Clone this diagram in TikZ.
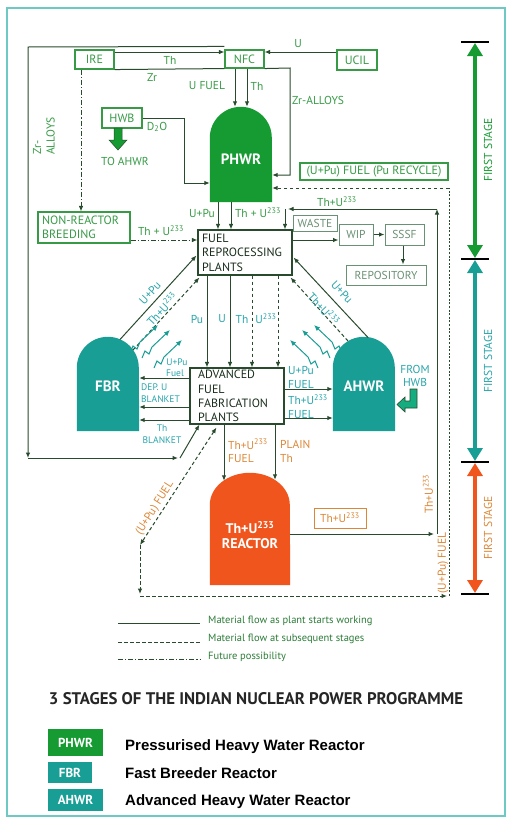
\documentclass[tikz,border=0pt]{standalone}
\usepackage{fontspec}
\usepackage{graphicx}
\setmainfont{PT Sans}
\newfontfamily\arialf{Liberation Sans}
\usetikzlibrary{arrows.meta,calc}
\definecolor{lgreen}{RGB}{55,155,70}
\definecolor{bgreen}{RGB}{22,155,50}
\definecolor{dline}{RGB}{40,75,45}
\definecolor{tealf}{RGB}{25,158,150}
\definecolor{tealt}{RGB}{40,165,170}
\definecolor{orngf}{RGB}{240,85,30}
\definecolor{orngt}{RGB}{220,135,55}
\definecolor{framec}{RGB}{110,200,195}
\definecolor{grayg}{RGB}{105,145,115}
\definecolor{boxtxt}{RGB}{25,45,28}
\pgfdeclarelayer{bg}
\pgfsetlayers{bg,main}
\newcommand{\Uu}{U\textsuperscript{233}}
\tikzset{
  myarr/.tip={Latex[length=5.5pt,width=4.5pt]},
  lab/.style={inner sep=0pt, align=center, font=\fontsize{11.5}{13.5}\selectfont},
  gl/.style={lab, text=lgreen},
  tl/.style={lab, text=tealt},
  ol/.style={lab, text=orngt},
  sm/.style={font=\fontsize{9.5}{11.5}\selectfont},
  gbox/.style={draw=lgreen, line width=1.1pt, text=lgreen, inner sep=0pt, font=\fontsize{12}{14}\selectfont},
  sbox/.style={draw=grayg, line width=1pt, text=grayg, inner sep=0pt, font=\fontsize{11.5}{13}\selectfont},
  pbox/.style={draw=dline, line width=1.1pt, text=boxtxt, inner xsep=4pt, inner ysep=0pt, align=left, font=\fontsize{12}{14.4}\selectfont},
  reactor/.style={inner sep=0pt},
  rlab/.style={inner sep=0pt, text=white, align=center, font=\fontsize{15}{17}\selectfont\bfseries},
  cline/.style={draw=dline, line width=1pt},
  conn/.style={cline, -myarr},
  dsh/.style={dash pattern=on 3.5pt off 2.5pt},
  ddt/.style={dash pattern=on 5pt off 2pt on 1.2pt off 2pt},
  dtt/.style={dash pattern=on 2pt off 1.6pt},
  stagearr/.style={line width=3.5pt, {Triangle[length=13pt,width=15pt]}-{Triangle[length=13pt,width=15pt]}},
  bar/.style={draw=black, line width=1.3pt},
  legbox/.style={inner sep=0pt, text=white, font=\fontsize{13}{15}\selectfont\bfseries},
  legtxt/.style={anchor=base west, inner sep=0pt, font=\arialf\fontsize{15}{17}\selectfont\bfseries},
}
\newcommand{\zzarrow}[3]{\draw[tealf, line width=1pt, -{Latex[length=6pt,width=5pt]}] (#1,#2) -- ++(#3*3,-7) -- ++(#3*4,3) -- ++(#3*3,-7) -- ++(#3*18,-17);}
\begin{document}
\begin{tikzpicture}[x=1pt,y=-1pt]
\useasboundingbox (0,0) rectangle (512,825);
\begin{pgfonlayer}{bg}
\fill[white] (0,0) rectangle (512,825);
\end{pgfonlayer}
\draw[framec, line width=1.3pt] (7,8) rectangle (505,816);

% boxes
\node[gbox, minimum width=39pt, minimum height=19pt] (ire) at (94.5,59.5) {IRE};
\node[gbox, minimum width=39pt, minimum height=18pt] (nfc) at (244.5,59) {NFC};
\node[gbox, minimum width=40pt, minimum height=20pt] (ucil) at (357,60) {UCIL};
\node[gbox, minimum width=40pt, minimum height=20pt] (hwb) at (122,118) {HWB};
\node[gbox, minimum width=148pt, minimum height=17pt] (rec) at (374,171.5) {(U+Pu) FUEL (Pu RECYCLE)};
\node[gbox, align=left, text width=84pt, inner xsep=4pt, minimum height=31pt] (nrb) at (84,227.5) {NON-REACTOR\\BREEDING};
\node[pbox, text width=86pt, minimum height=45pt] (frp) at (245,252.5) {FUEL\\REPROCESSING\\PLANTS};
\node[pbox, inner xsep=8pt, text width=78pt, minimum height=56pt] (affp) at (237,396) {ADVANCED\\FUEL\\FABRICATION\\PLANTS};
\node[sbox, minimum width=44pt, minimum height=16pt] (waste) at (315,223) {WASTE};
\node[sbox, minimum width=34pt, minimum height=21pt] (wip) at (356,234.5) {WIP};
\node[sbox, minimum width=39pt, minimum height=21pt] (sssf) at (404.5,234.5) {SSSF};
\node[sbox, minimum width=80pt, minimum height=20pt] (repo) at (386,275) {REPOSITORY};
\node[draw=orngt, line width=1pt, text=orngt, inner sep=0pt, minimum width=52pt, minimum height=20pt, font=\fontsize{11.5}{13}\selectfont] (thbox) at (340,518) {Th+\Uu};

% reactors
\node[reactor, minimum width=62pt, minimum height=95pt] (phwr) at (241,154.5) {};
\node[reactor, minimum width=62pt, minimum height=94pt] (fbr) at (108,384) {};
\node[reactor, minimum width=62pt, minimum height=94pt] (ahwr) at (364,384) {};
\node[reactor, minimum width=80pt, minimum height=112pt] (thr) at (250,529) {};
\begin{pgfonlayer}{bg}
\fill[bgreen] (phwr.south west) -- ($(phwr.north west)+(0,31)$) arc[start angle=180,end angle=360,radius=31] -- (phwr.south east) -- cycle;
\fill[tealf] (fbr.south west) -- ($(fbr.north west)+(0,31)$) arc[start angle=180,end angle=360,radius=31] -- (fbr.south east) -- cycle;
\fill[tealf] (ahwr.south west) -- ($(ahwr.north west)+(0,31)$) arc[start angle=180,end angle=360,radius=31] -- (ahwr.south east) -- cycle;
\fill[orngf] (thr.south west) -- ($(thr.north west)+(0,32)$) arc[start angle=180,end angle=360,x radius=40,y radius=32] -- (thr.south east) -- cycle;
\end{pgfonlayer}
\node[rlab] (phwrt) at (241,159) {PHWR};
\node[rlab] (fbrt) at (108,386) {FBR};
\node[rlab] (ahwrt) at (364,386) {AHWR};
\node[rlab, font=\fontsize{14}{15.5}\selectfont\bfseries] (thrt) at (250,535) {Th+\Uu\\REACTOR};

% coordinates
\coordinate (zc) at (28,458);
\coordinate (ze) at (180,458);
\coordinate (r1) at (437,534);
\coordinate (r2) at (437,209);
\coordinate (r3) at (285,209);
\coordinate (f1) at (120,339.5);
\coordinate (f2) at (133,350);
\coordinate (a1) at (368,337.5);
\coordinate (a2) at (348,341);
\coordinate (d1) at (140,545);
\coordinate (d2) at (140,596);
\coordinate (d3) at (449,596);
\coordinate (d4) at (449,188);

% top connectors
\draw[conn] (ire.east |- 0,52) -- (nfc.west |- 0,52);
\draw[cline] (ire.south east) -- (nfc.south west);
\draw[conn] ($(nfc.north west)+(0,-3)$) -- (28,47) -- (zc);
\draw[conn] (zc) -- ($(ze)+(-2,0)$);
\draw[conn] (ze) -- ($(affp.south west)+(10,0)$);
\draw[conn] (ucil.west |- 0,52) -- (nfc.east |- 0,52);
\draw[conn] (nfc.south -| 235,0) -- (phwr.north -| 235,0);
\draw[conn] (nfc.south -| 247,0) -- (phwr.north -| 247,0);
\draw[conn] (nfc.south east) -- (290,68) -- (290,175) -- (phwr.east |- 0,175);
\draw[conn] (hwb.east) -- (184,118) -- (184,183) -- (phwr.west |- 0,183);
\filldraw[fill=bgreen, draw=dline, line width=0.5pt] (114,128) -- (122,128) -- (122,140) -- (127,140) -- (118,150) -- (109,140) -- (114,140) -- cycle;
\draw[conn, ddt] (ire.south -| 81,0) -- (nrb.north -| 81,0);
\draw[conn, ddt] (nrb.east |- 0,240) -- (frp.west |- 0,240);
\draw[conn] (phwr.south -| 218,0) -- (frp.north -| 218,0);
\draw[conn] (phwr.south -| 231,0) -- (frp.north -| 231,0);

% Th+U233 return
\draw[conn] (thr.east |- r1) -- ($(r1)+(-3,0)$);
\draw[conn] (r1) -- (r2);
\draw[conn] (r2) -- ($(r3)+(3,0)$);
\draw[conn] (r3) -- (frp.north -| r3);

% waste chain
\draw[conn] (frp.east |- 0,240) -- (wip.west |- 0,240);
\draw[conn] (wip) -- (sssf);
\draw[conn] (sssf.south -| 403,0) -- (repo.north -| 403,0);

% FRP -> AFFP
\draw[conn] (frp.south -| 207,0) -- (affp.north -| 207,0);
\draw[conn] (frp.south -| 230,0) -- (affp.north -| 230,0);
\draw[conn, dsh] (frp.south -| 252,0) -- (affp.north -| 252,0);
\draw[conn, dsh] (frp.south -| 278,0) -- (affp.north -| 278,0);

% reactors -> FRP
\draw[conn] (f1) -- ($(frp.south west)+(-1,-20)$);
\draw[conn, dsh] (f2) -- ($(frp.south west)+(2,2)$);
\draw[conn] (a1) -- ($(frp.south east)+(1,-18)$);
\draw[conn, dsh] (a2) -- ($(frp.south east)+(-2,2)$);

% AFFP -> reactors
\draw[conn] (affp.west |- 0,378) -- (fbr.east |- 0,378);
\draw[conn] (affp.west |- 0,407) -- (fbr.east |- 0,407);
\draw[conn] (affp.west |- 0,420) -- (fbr.east |- 0,420);
\draw[conn] (affp.east |- 0,389) -- (ahwr.west |- 0,389);
\draw[conn] (affp.east |- 0,418) -- (ahwr.west |- 0,418);
\draw[conn] (affp.south -| 224,0) -- ($(thr.north -| 224,0)+(0,8)$);
\draw[conn] (affp.south -| 275,0) -- ($(thr.north -| 275,0)+(0,7)$);

% dashed recycle loop
\draw[cline, dsh, myarr-myarr] ($(affp.south west)+(27,3)$) -- (d1);
\draw[conn, dsh] (d1) -- ($(d2)+(0,-2)$);
\draw[conn, dsh] (d2) -- ($(d3)+(-2,0)$);
\draw[cline, dtt] (d3) -- (d4);
\draw[conn, dsh] (d4) -- (phwr.east |- d4);

% zigzag arrows
\zzarrow{130}{353}{1}
\zzarrow{142}{358}{1}
\zzarrow{154}{368}{1}
\zzarrow{342}{353}{-1}
\zzarrow{330}{358}{-1}
\zzarrow{318}{368}{-1}
\filldraw[fill=tealf!85!green, draw=dline, line width=0.6pt] (410,389) -- (417,389) -- (417,408) -- (405,408) -- (405,412) -- (397,404.5) -- (405,397) -- (405,401) -- (410,401) -- cycle;

% labels green
\node[gl] at (170,60) {Th};
\node[gl] at (152,77) {Zr};
\node[gl] at (298,44) {U};
\node[gl] at (207,86) {U FUEL};
\node[gl] at (257,86) {Th};
\node[gl, anchor=west] at (292,100) {Zr-ALLOYS};
\node[gl, rotate=90, align=left] at (44,136) {Zr-\\ALLOYS};
\node[gl] at (157,127) {D\textsubscript{2}O};
\node[gl] at (125,161) {TO AHWR};
\node[gl] at (202,213) {U+Pu};
\node[gl] at (258,213) {Th + \Uu};
\node[gl] at (161,231) {Th + \Uu};
\node[gl] at (337,202) {Th+\Uu};
% teal
\node[tl] at (197,319) {Pu};
\node[tl] at (222,319) {U};
\node[tl] at (242,319) {Th};
\node[tl] at (266,319) {\Uu};
\node[tl, rotate=47] at (150,293) {U+Pu};
\node[tl, rotate=47] at (162,309) {Th+\Uu};
\node[tl, rotate=-47] at (342,292) {U+Pu};
\node[tl, rotate=-47] at (324,309) {Th+\Uu};
\node[tl, sm] at (177,362) {U+Pu};
\node[tl, sm] at (175,373) {Fuel};
\node[tl, sm, anchor=west, align=left] at (141,393) {DEP. U\\BLANKET};
\node[tl, sm] at (162,434) {Th\\BLANKET};
\node[tl, anchor=west, align=left] at (288,377.5) {U+Pu\\FUEL};
\node[tl, anchor=west, align=left] at (288,406.5) {Th+\Uu\\FUEL};
\node[tl] at (415,376) {FROM\\HWB};
% orange
\node[ol, anchor=west, align=left] at (228,451) {Th+\Uu\\FUEL};
\node[ol, anchor=west, align=left] at (280,451.5) {PLAIN\\Th};
\node[ol, rotate=90] at (428,494) {Th+\Uu};
\node[ol, rotate=90] at (443,563) {(U+Pu) FUEL};
\node[ol, rotate=57.6] at (155,508) {(U+Pu) FUEL};

% stage arrows
\coordinate (s0) at (475,42);
\coordinate (s1) at (475,259);
\coordinate (s2) at (475,462);
\coordinate (s3) at (475,594);
\draw[bgreen, stagearr, shorten <=1pt, shorten >=1pt] (s0) -- (s1);
\draw[tealf, stagearr, shorten <=1pt, shorten >=1pt] (s1) -- (s2);
\draw[orngf, stagearr, shorten <=1pt, shorten >=1pt] (s2) -- (s3);
\foreach \s in {s0,s1,s2,s3} \draw[bar] ($(\s)+(-14,0)$) -- ($(\s)+(14,0)$);
\node[lab, rotate=90, text=bgreen, font=\fontsize{11.5}{13}\selectfont] at (488,150) {FIRST STAGE};
\node[lab, rotate=90, text=tealt, font=\fontsize{11.5}{13}\selectfont] at (488,361) {FIRST STAGE};
\node[lab, rotate=90, text=orngt, font=\fontsize{11.5}{13}\selectfont] at (488,528) {FIRST STAGE};

% legend lines
\coordinate (l1) at (118,623);
\coordinate (l2) at (118,642);
\coordinate (l3) at (118,659);
\draw[cline] (l1) -- ++(82,0);
\draw[cline, dsh] (l2) -- ++(82,0);
\draw[cline, ddt] (l3) -- ++(82,0);
\node[gl, anchor=west, text=lgreen!80!black, font=\fontsize{10.5}{12}\selectfont] at (208,621) {Material flow as plant starts working};
\node[gl, anchor=west, text=lgreen!80!black, font=\fontsize{10.5}{12}\selectfont] at (208,639) {Material flow at subsequent stages};
\node[gl, anchor=west, text=lgreen!80!black, font=\fontsize{10.5}{12}\selectfont] at (208,657) {Future possibility};

% title
\node[inner sep=0pt, text=black!85, font=\fontsize{15.5}{18}\selectfont\bfseries] (title) at (256,699) {\resizebox{414pt}{!}{3 STAGES OF THE INDIAN NUCLEAR POWER PROGRAMME}};

% legend boxes
\node[legbox, fill=bgreen, minimum width=55pt, minimum height=27pt] (lphwr) at (75.5,742.5) {PHWR};
\node[legbox, fill=tealf, minimum width=44pt, minimum height=21pt] (lfbr) at (70,772.5) {FBR};
\node[legbox, fill=tealf, minimum width=55pt, minimum height=22pt] (lahwr) at (75.5,800) {AHWR};
\node[legtxt] at (125,750) {Pressurised Heavy Water Reactor};
\node[legtxt] at (125,778) {Fast Breeder Reactor};
\node[legtxt] at (125,805) {Advanced Heavy Water Reactor};
\end{tikzpicture}
\end{document}
